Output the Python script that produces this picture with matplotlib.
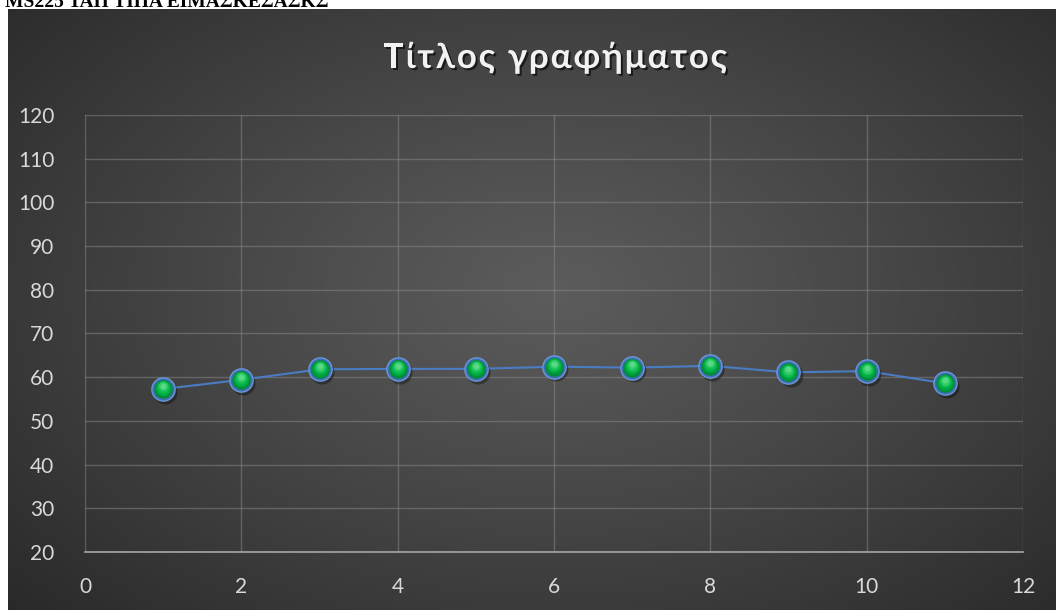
import numpy as np
import matplotlib
matplotlib.use("Agg")
import matplotlib.pyplot as plt
import matplotlib.patheffects as pe
import matplotlib.transforms as mtransforms

# Data
x_values = [1, 2, 3, 4, 5, 6, 7, 8, 9, 10, 11]
y_values = [57.3, 59.4, 61.8, 61.9, 61.9, 62.4, 62.2, 62.6, 61.1, 61.4, 58.6]
x_ticks = [0, 2, 4, 6, 8, 10, 12]
y_ticks = [20, 30, 40, 50, 60, 70, 80, 90, 100, 110, 120]
title = "Τίτλος γραφήματος"
header = "MS225 ΤΑΠ ΤΙΠΑ ΕΙΜΑΣΚΕΣΑΣΚΣ"

FONT = ["Lato", "Open Sans", "DejaVu Sans"]
W, H = 1056, 610
fig = plt.figure(figsize=(W / 100, H / 100), dpi=100, facecolor="white")

# Header line above the chart (only its lower part lies inside the figure)
fig.text(5 / W, 1 - 7 / H, header, family="Liberation Serif", fontweight="bold",
         fontsize=14, color="black", va="baseline", ha="left")

# Chart area with a radial dark-grey gradient
bg = fig.add_axes([8 / W, 0, 1 - 8 / W, 1 - 9 / H])
bg.set_axis_off()
gy, gx = np.mgrid[0:300, 0:520]
cx, cy = 270, 140
r = np.sqrt(((gx - cx) / 520.0) ** 2 + ((gy - cy) / 330.0) ** 2)
r = np.clip(r / 0.75, 0, 1)
light, dark = 0.36, 0.15
val = light + (dark - light) * r ** 1.1
img = np.dstack([val, val, val])
bg.imshow(img, aspect="auto", extent=[0, 1, 0, 1], interpolation="bicubic")
bg.set_xlim(0, 1)
bg.set_ylim(0, 1)

ax = fig.add_axes([85 / W, 1 - 552 / H, (1023 - 85) / W, (552 - 115) / H])
ax.patch.set_alpha(0)
ax.set_xlim(0, 12)
ax.set_ylim(20, 120)
ax.set_xticks(x_ticks)
ax.set_yticks(y_ticks)
ax.grid(True, color="#8a8a8a", linewidth=1.0, alpha=0.5)
ax.set_axisbelow(True)
for side in ["top", "right", "left"]:
    ax.spines[side].set_visible(False)
ax.spines["bottom"].set_color("#a6a6a6")
ax.spines["bottom"].set_linewidth(1.2)
ax.tick_params(axis="both", length=0, colors="#d9d9d9", labelsize=15)
ax.tick_params(axis="y", pad=22)
ax.tick_params(axis="x", pad=18)
for lab in ax.get_xticklabels() + ax.get_yticklabels():
    lab.set_family(FONT)

# Series line
ax.plot(x_values, y_values, color="#4a7cc4", linewidth=1.5, zorder=3)

# Glossy spherical markers: shadow, blue rim, green body, highlight
shadow = mtransforms.ScaledTranslation(1.5 / 72, -2.0 / 72, fig.dpi_scale_trans)
ax.scatter(x_values, y_values, s=300, color="black", alpha=0.35, zorder=4,
           linewidths=0, transform=ax.transData + shadow)
ax.scatter(x_values, y_values, s=280, color="#3f6fb5", edgecolors="#6b97d6",
           linewidths=1.0, zorder=5)
greens = ["#008a35", "#009c3c", "#00ad44", "#10bd52", "#2fcb66", "#5ad985"]
sizes = [175, 138, 104, 73, 44, 18]
for i, (c, s) in enumerate(zip(greens, sizes)):
    off = mtransforms.ScaledTranslation(0, (i * 0.45) / 72, fig.dpi_scale_trans)
    ax.scatter(x_values, y_values, s=s, color=c, linewidths=0, zorder=6 + i,
               transform=ax.transData + off)

# Letter-spaced bold title, centred over the chart
renderer = fig.canvas.get_renderer()
title_style = dict(family=FONT, fontweight="bold", fontsize=25, color="#f2f2f2",
                   va="baseline", ha="left",
                   path_effects=[pe.withSimplePatchShadow(offset=(1.5, -1.5), alpha=0.6,
                                                          shadow_rgbFace="black")])
widths = []
for ch in title:
    t = fig.text(0, 0, ch if ch != " " else "n", **title_style)
    w = t.get_window_extent(renderer).width
    widths.append(w * 0.45 if ch == " " else w)
    t.remove()
span_left, span_right = 383, 727
spacing = (span_right - span_left - sum(widths)) / (len(title) - 1)
xpos = span_left
baseline = 1 - 68 / H
for ch, w in zip(title, widths):
    if ch != " ":
        fig.text(xpos / W, baseline, ch, **title_style)
    xpos += w + spacing

fig.savefig("out.png", dpi=100, facecolor="white")
